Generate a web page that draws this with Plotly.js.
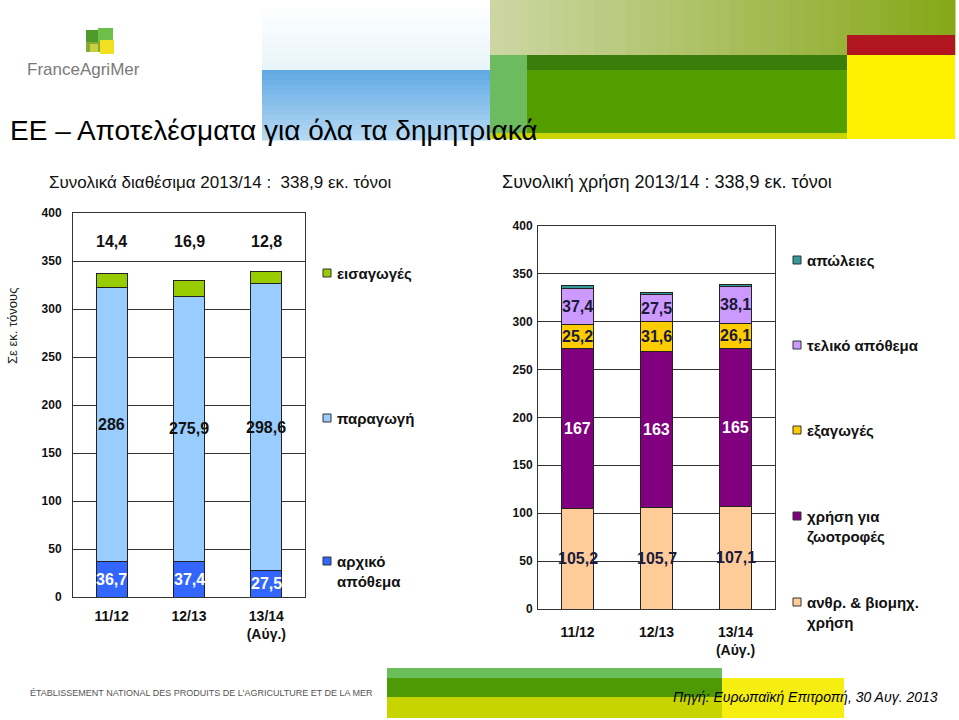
<!DOCTYPE html>
<html>
<head>
<meta charset="utf-8">
<script src="https://cdn.plot.ly/plotly-3.0.1.min.js"></script>
<style>
html,body{margin:0;padding:0;background:#fff;}
#chart{width:959px;height:720px;}
</style>
</head>
<body>
<div id="chart"></div>
<script>
// ---------- DATA ----------
const seasons = ['11/12', '12/13', '13/14<br>(Αύγ.)'];

// Left chart: availability (εκ. τόνοι)
const initialStock = [36.7, 37.4, 27.5];   // αρχικό απόθεμα
const production   = [286, 275.9, 298.6];  // παραγωγή
const imports      = [14.4, 16.9, 12.8];   // εισαγωγές

// Right chart: use (εκ. τόνοι)
const humanIndustrialUse = [105.2, 105.7, 107.1]; // ανθρ. & βιομηχ. χρήση
const feedUse            = [167, 163, 165];       // χρήση για ζωοτροφές
const exportsVals        = [25.2, 31.6, 26.1];    // εξαγωγές
const finalStock         = [37.4, 27.5, 38.1];    // τελικό απόθεμα
const losses             = [2.3, 2.4, 2.6];       // απώλειες

const leftNames  = ['αρχικό<br>απόθεμα', 'παραγωγή', 'εισαγωγές'];
const rightNames = ['ανθρ. & βιομηχ.<br>χρήση', 'χρήση για<br>ζωοτροφές', 'εξαγωγές', 'τελικό απόθεμα', 'απώλειες'];

const titleText = 'ΕΕ – Αποτελέσματα για όλα τα δημητριακά';
const subLeft   = 'Συνολικά διαθέσιμα 2013/14 :  338,9 εκ. τόνοι';
const subRight  = 'Συνολική χρήση 2013/14 : 338,9 εκ. τόνοι';
const yAxisTitle = 'Σε εκ. τόνους';
const sourceText = 'Πηγή: Ευρωπαϊκή Επιτροπή, 30 Αυγ. 2013';
const footerText = "ÉTABLISSEMENT NATIONAL DES PRODUITS DE L'AGRICULTURE ET DE LA MER";
const importsLabelLevel = 370;

// ---------- HELPERS ----------
const W = 959, H = 720;
const px = x => x / W;
const py = y => 1 - y / H;
const fmt = v => String(v).replace('.', ',');
const FONT = 'Arial, "Liberation Sans", sans-serif';

const colors = {
  initialStock: '#3366ff', production: '#99ccff', imports: '#99cc00',
  human: '#ffcc99', feed: '#800080', exports: '#ffcc00', finalStock: '#cc99ff', losses: '#339999'
};
const outline = {color: '#222', width: 1};

function bar(y, name, color, xa, ya) {
  return {type: 'bar', x: seasons, y: y, name: name, xaxis: xa, yaxis: ya,
    marker: {color: color, line: outline}, showlegend: false, hoverinfo: 'y'};
}

const traces = [
  bar(initialStock, 'αρχικό απόθεμα', colors.initialStock, 'x', 'y'),
  bar(production, 'παραγωγή', colors.production, 'x', 'y'),
  bar(imports, 'εισαγωγές', colors.imports, 'x', 'y'),
  bar(humanIndustrialUse, 'ανθρ. & βιομηχ. χρήση', colors.human, 'x2', 'y2'),
  bar(feedUse, 'χρήση για ζωοτροφές', colors.feed, 'x2', 'y2'),
  bar(exportsVals, 'εξαγωγές', colors.exports, 'x2', 'y2'),
  bar(finalStock, 'τελικό απόθεμα', colors.finalStock, 'x2', 'y2'),
  bar(losses, 'απώλειες', colors.losses, 'x2', 'y2')
];

// ---------- ANNOTATIONS ----------
const ann = [];
function label(xref, yref, x, y, text, color) {
  ann.push({xref: xref, yref: yref, x: x, y: y, text: text, showarrow: false,
    xanchor: 'center', yanchor: 'middle', font: {family: FONT, size: 16, color: color, weight: 'bold'}});
}
seasons.forEach((s, i) => {
  // left chart
  label('x', 'y', s, initialStock[i] / 2, fmt(initialStock[i]), '#ffffff');
  label('x', 'y', s, initialStock[i] + production[i] / 2, fmt(production[i]), '#111111');
  label('x', 'y', s, importsLabelLevel, fmt(imports[i]), '#111111');
  // right chart
  let base = 0;
  label('x2', 'y2', s, base + humanIndustrialUse[i] / 2, fmt(humanIndustrialUse[i]), '#1a1a3a');
  base += humanIndustrialUse[i];
  label('x2', 'y2', s, base + feedUse[i] / 2, fmt(feedUse[i]), '#ffffff');
  base += feedUse[i];
  label('x2', 'y2', s, base + exportsVals[i] / 2, fmt(exportsVals[i]), '#1a1a3a');
  base += exportsVals[i];
  label('x2', 'y2', s, base + finalStock[i] / 2, fmt(finalStock[i]), '#1a1a3a');
});

function txt(x, y, text, size, opts) {
  ann.push(Object.assign({xref: 'paper', yref: 'paper', x: px(x), y: py(y), text: text, showarrow: false,
    xanchor: 'left', yanchor: 'middle', align: 'left',
    font: {family: FONT, size: size, color: '#000'}}, opts || {}));
}

// titles
txt(8, 130, titleText, 28);
txt(47, 182, subLeft, 17, {font: {family: FONT, size: 17, color: '#111'}});
txt(500, 182, subRight, 18, {font: {family: FONT, size: 18, color: '#111'}});
txt(13, 326, yAxisTitle, 13, {xanchor: 'center', textangle: -90, font: {family: FONT, size: 13, color: '#222'}});
txt(25, 70, 'FranceAgriMer', 17, {font: {family: FONT, size: 17, color: '#7a7a7a'}});
txt(28, 693, footerText, 9, {font: {family: '"Liberation Sans Narrow", Arial, sans-serif', size: 9, color: '#555'}});
txt(940, 697, sourceText, 14, {xanchor: 'right', font: {family: FONT, size: 14, color: '#000', style: 'italic'}});

// custom legends
const shapes = [];
function legendItem(xs, y, text, color, lines) {
  shapes.push({type: 'rect', xref: 'paper', yref: 'paper', x0: px(xs - 4), x1: px(xs + 4), y0: py(y + 4), y1: py(y - 4),
    fillcolor: color, line: {color: '#333', width: 1}});
  const opts = {font: {family: FONT, size: 15, color: '#111', weight: 'bold'}};
  if (lines > 1) { opts.yanchor = 'top'; txt(xs + 8, y - 10, text, 15, opts); }
  else txt(xs + 8, y, text, 15, opts);
}
legendItem(327, 273, leftNames[2], colors.imports, 1);
legendItem(327, 418, leftNames[1], colors.production, 1);
legendItem(327, 561, leftNames[0], colors.initialStock, 2);
legendItem(797, 260, rightNames[4], colors.losses, 1);
legendItem(797, 345, rightNames[3], colors.finalStock, 1);
legendItem(797, 430, rightNames[2], colors.exports, 1);
legendItem(797, 516, rightNames[1], colors.feed, 2);
legendItem(797, 602, rightNames[0], colors.human, 2);

// decorative header / footer blocks
function rect(x0, y0, x1, y1, fill) {
  shapes.push({type: 'rect', xref: 'paper', yref: 'paper', layer: 'below',
    x0: px(x0), x1: px(x1), y0: py(y1), y1: py(y0), fillcolor: fill, line: {width: 0}});
}
function hex2rgb(h) { return [1, 3, 5].map(k => parseInt(h.substr(k, 2), 16)); }
function mix(a, b, t) {
  const A = hex2rgb(a), B = hex2rgb(b);
  return 'rgb(' + A.map((v, k) => Math.round(v + (B[k] - v) * t)).join(',') + ')';
}
function vGradient(x0, y0, x1, y1, cTop, cBot, n) {
  const h = (y1 - y0) / n;
  for (let k = 0; k < n; k++) rect(x0, y0 + k * h, x1, y0 + (k + 1) * h + 0.5, mix(cTop, cBot, k / (n - 1)));
}
function hGradient(x0, y0, x1, y1, cLeft, cRight, n) {
  const w = (x1 - x0) / n;
  for (let k = 0; k < n; k++) rect(x0 + k * w, y0, x0 + (k + 1) * w + 0.5, y1, mix(cLeft, cRight, k / (n - 1)));
}
// faint sky above blue block
vGradient(262, 0, 490, 70, '#ffffff', '#eaf5fa', 8);
// blue block
vGradient(262, 70, 490, 140, '#62aae4', '#b3d8f3', 14);
// olive band
hGradient(490, 0, 955, 55, '#cdd6a3', '#86a81a', 31);
rect(847, 35, 955, 55, '#b01520');
rect(490, 55, 847, 70, '#3b7d0a');
rect(490, 70, 847, 133, '#559e00');
rect(490, 55, 527, 133, '#6cbb5e');
rect(490, 133, 847, 139, '#c9d400');
rect(847, 55, 955, 139, '#fff200');
// logo icon
rect(86, 30, 100, 44, '#4f9a2a');
rect(98, 28, 113, 42, '#6cbf4a');
rect(100, 40, 114, 54, '#f0e020');
rect(86, 42, 100, 52, '#87a832');
rect(90, 44, 98, 52, '#c8d040');
// footer bars
rect(387, 668, 722, 678, '#6bbf5a');
rect(387, 678, 722, 697, '#4e9a06');
rect(387, 697, 722, 718, '#c8d400');
rect(722, 678, 844, 718, '#f5ee10');

// ---------- LAYOUT ----------
const yCommon = {range: [0, 400], dtick: 50, showgrid: true, gridcolor: '#333', gridwidth: 1,
  showline: true, linecolor: '#333', linewidth: 1, mirror: true, zeroline: false, ticks: '',
  tickfont: {family: FONT, size: 12, color: '#111', weight: 'bold'}, fixedrange: true};
const xCommon = {type: 'category', showline: true, linecolor: '#333', linewidth: 1, mirror: true, ticks: '',
  tickfont: {family: FONT, size: 14, color: '#111', weight: 'bold'}, fixedrange: true};

const layout = {
  width: W, height: H,
  margin: {l: 0, r: 0, t: 0, b: 0},
  paper_bgcolor: '#fff', plot_bgcolor: '#fff',
  barmode: 'stack', bargap: 0.6,
  showlegend: false,
  xaxis: Object.assign({}, xCommon, {domain: [px(73), px(305)], anchor: 'y', ticklabelstandoff: 6}),
  yaxis: Object.assign({}, yCommon, {domain: [py(597), py(213)], anchor: 'x', ticklabelstandoff: 8}),
  xaxis2: Object.assign({}, xCommon, {domain: [px(538), px(775)], anchor: 'y2', ticklabelstandoff: 10}),
  yaxis2: Object.assign({}, yCommon, {domain: [py(609), py(225.7)], anchor: 'x2', ticklabelstandoff: 2}),
  annotations: ann,
  shapes: shapes
};

Plotly.newPlot('chart', traces, layout, {displayModeBar: false, staticPlot: true});
</script>
</body>
</html>
